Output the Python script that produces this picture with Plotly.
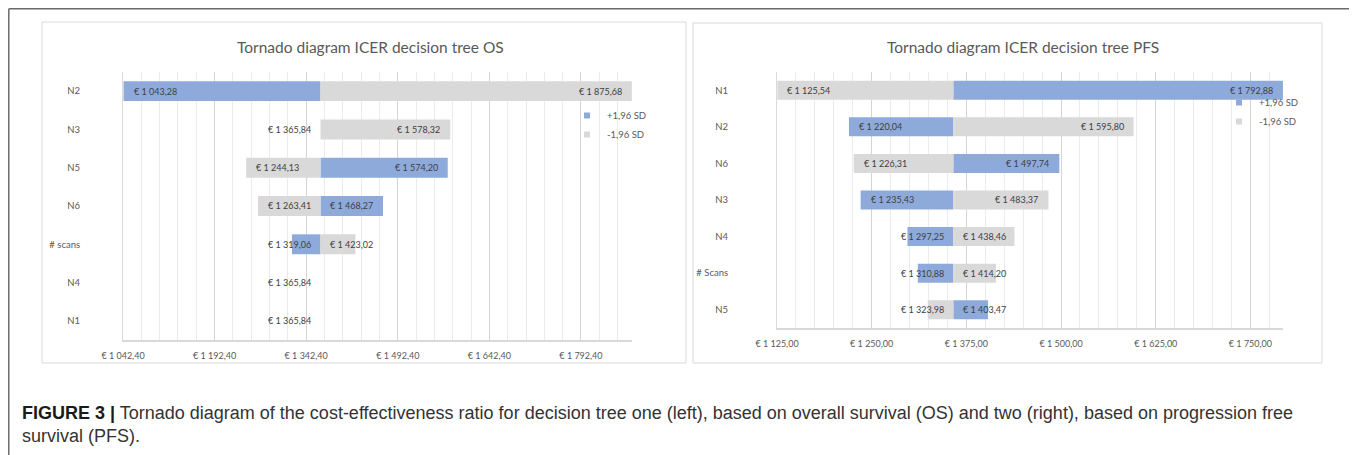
import plotly.graph_objects as go

W, H = 1357, 455
OFF = 8  # page body margin: the figure is drawn 8 px in from the window corner

# ---------------- data ----------------
os_categories = ["N2", "N3", "N5", "N6", "# scans", "N4", "N1"]
os_plus = [1043.28, 1365.84, 1574.20, 1468.27, 1319.06, 1365.84, 1365.84]
os_minus = [1875.68, 1578.32, 1244.13, 1263.41, 1423.02, 1365.84, 1365.84]
os_base = 1365.84
os_tick_values = [1042.40, 1192.40, 1342.40, 1492.40, 1642.40, 1792.40]
os_tick_labels = ["€ 1 042,40", "€ 1 192,40", "€ 1 342,40", "€ 1 492,40", "€ 1 642,40", "€ 1 792,40"]

pfs_categories = ["N1", "N2", "N6", "N3", "N4", "# Scans", "N5"]
pfs_plus = [1792.88, 1220.04, 1497.74, 1235.43, 1297.25, 1310.88, 1403.47]
pfs_minus = [1125.54, 1595.80, 1226.31, 1483.37, 1438.46, 1414.20, 1323.98]
pfs_base = 1357.80
pfs_tick_values = [1125.00, 1250.00, 1375.00, 1500.00, 1625.00, 1750.00]
pfs_tick_labels = ["€ 1 125,00", "€ 1 250,00", "€ 1 375,00", "€ 1 500,00", "€ 1 625,00", "€ 1 750,00"]

series_names = ["+1,96 SD", "-1,96 SD"]
titles = ["Tornado diagram ICER decision tree OS", "Tornado diagram ICER decision tree PFS"]
caption_bold = "FIGURE 3 |"
caption_text = ("Tornado diagram of the cost-effectiveness ratio for decision tree one (left), based on overall "
                "survival (OS) and two (right), based on progression free<br>survival (PFS).")

# ---------------- style ----------------
FONT = "Lato"
CAP_FONT = "Liberation Sans, Arial, sans-serif"
BLUE = "#8EAADB"
GREY = "#D9D9D9"
TXT = "#595959"
LBL = "#404040"

FW, FH = W - OFF, H - OFF  # figure size

def xp(px):
    return (px - OFF) / FW

def yp(py):
    return 1 - (py - OFF) / FH

# plot area pixel boxes in window coordinates (left, right, top, bottom)
os_box = (123, 632, 72, 340)
pfs_box = (777, 1283, 72, 328)
os_range = [1042.40, 1876.0]
pfs_range = [1125.00, 1793.0]

def euro(v):
    s = f"{v:,.2f}".replace(",", " ").replace(".", ",")
    return "€ " + s

fig = go.Figure()

charts = [
    (os_categories, os_plus, os_minus, os_base, "x", "y", os_box, os_range),
    (pfs_categories, pfs_plus, pfs_minus, pfs_base, "x2", "y2", pfs_box, pfs_range),
]

annotations = []
for cats, plus, minus, base, xa, ya, box, rng in charts:
    for vals, col in ((plus, BLUE), (minus, GREY)):
        fig.add_trace(go.Bar(
            orientation="h", y=cats, x=[v - base for v in vals], base=base,
            marker=dict(color=col, line=dict(width=0)), width=0.52,
            xaxis=xa, yaxis=ya, showlegend=False, hoverinfo="skip",
        ))
    ppu = (box[1] - box[0]) / (rng[1] - rng[0])
    for vals, skip_zero in ((plus, False), (minus, True)):
        for c, v in zip(cats, vals):
            d = v - base
            if d == 0 and skip_zero:
                continue
            fits = abs(d) * ppu >= 66
            if fits:
                ax, anchor, shift = v, ("left" if d < 0 else "right"), (8 if d < 0 else -8)
            else:
                ax, anchor, shift = base, ("right" if d <= 0 else "left"), (-7 if d <= 0 else 8)
            annotations.append(dict(
                x=ax, y=c, xref=xa, yref=ya, text=euro(v), showarrow=False,
                xanchor=anchor, xshift=shift, yanchor="middle",
                font=dict(family=FONT, size=9, color=LBL),
            ))

# legend entries (small square markers)
for legname, xa, ya in (("legend", "x", "y"), ("legend2", "x2", "y2")):
    for name, col in zip(series_names, (BLUE, GREY)):
        fig.add_trace(go.Scatter(
            x=[None], y=[None], mode="markers", name=name,
            marker=dict(symbol="square", size=6, color=col),
            xaxis=xa, yaxis=ya, legend=legname, showlegend=True,
        ))

# titles
for t, cx in zip(titles, (370, 1023)):
    annotations.append(dict(x=xp(cx), y=yp(47), xref="paper", yref="paper", text=t,
                            showarrow=False, xanchor="center", yanchor="middle",
                            font=dict(family=FONT, size=15.5, color=TXT)))
# caption
annotations.append(dict(x=xp(20), y=yp(401), xref="paper", yref="paper",
                        text=f"<b>{caption_bold}</b> <span style='color:#333333'>{caption_text}</span>",
                        showarrow=False, xanchor="left", yanchor="top", align="left",
                        font=dict(family=CAP_FONT, size=18, color="#1A1A1A")))

FRAME = dict(color="#6B6B6B", width=1.5)
shapes = [
    # outer figure frame (left, top, right)
    dict(type="line", xref="paper", yref="paper", x0=xp(8.8), x1=xp(8.8), y0=-0.05, y1=yp(8.8), line=FRAME),
    dict(type="line", xref="paper", yref="paper", x0=xp(8.8), x1=xp(1355), y0=yp(8.8), y1=yp(8.8), line=FRAME),
    dict(type="line", xref="paper", yref="paper", x0=xp(1355), x1=xp(1355), y0=-0.05, y1=yp(8.8), line=FRAME),
    # panel boxes
    dict(type="rect", xref="paper", yref="paper", x0=xp(42), x1=xp(686), y0=yp(363), y1=yp(22),
         line=dict(color="#D9D9D9", width=1), layer="below"),
    dict(type="rect", xref="paper", yref="paper", x0=xp(693), x1=xp(1322), y0=yp(363), y1=yp(23),
         line=dict(color="#D9D9D9", width=1), layer="below"),
]

def xaxis_cfg(box, rng, tv, tt, minor_dt, anchor):
    return dict(
        domain=[xp(box[0]), xp(box[1])], range=rng, anchor=anchor, automargin=False,
        tickmode="array", tickvals=tv, ticktext=tt,
        showgrid=True, gridcolor="#D4D4D4", gridwidth=1,
        minor=dict(tickmode="linear", tick0=rng[0], dtick=minor_dt, showgrid=True,
                   gridcolor="#EBEBEB", gridwidth=1),
        showline=True, linecolor="#D9D9D9", linewidth=1.5, zeroline=False,
        ticks="", ticklabelstandoff=6,
        tickfont=dict(family=FONT, size=9, color=TXT), fixedrange=True,
    )

def yaxis_cfg(box, cats, anchor, standoff):
    return dict(
        domain=[yp(box[3]), yp(box[2])], anchor=anchor, type="category", automargin=False,
        categoryorder="array", categoryarray=cats, autorange="reversed",
        showgrid=False, showline=True, linecolor="#D9D9D9", linewidth=1, zeroline=False,
        ticks="", ticklabelstandoff=standoff,
        tickfont=dict(family=FONT, size=9.5, color=TXT), fixedrange=True,
    )

legend_common = dict(xanchor="left", yanchor="top", bgcolor="rgba(0,0,0,0)",
                     font=dict(family=FONT, size=9.5, color=TXT), itemwidth=30,
                     tracegroupgap=0, traceorder="normal")

fig.update_layout(
    width=FW, height=FH, margin=dict(l=0, r=0, t=0, b=0, autoexpand=False),
    paper_bgcolor="white", plot_bgcolor="white",
    barmode="overlay", separators=", ",
    xaxis=xaxis_cfg(os_box, os_range, os_tick_values, os_tick_labels, 30, "y"),
    yaxis=yaxis_cfg(os_box, os_categories, "x", 40),
    xaxis2=xaxis_cfg(pfs_box, pfs_range, pfs_tick_values, pfs_tick_labels, 25, "y2"),
    yaxis2=yaxis_cfg(pfs_box, pfs_categories, "x2", 46),
    legend=dict(x=xp(567), y=yp(101), **legend_common),
    legend2=dict(x=xp(1219), y=yp(88), **legend_common),
    annotations=annotations, shapes=shapes,
    font=dict(family=FONT), hovermode=False,
)

fig.write_html("out.html")
